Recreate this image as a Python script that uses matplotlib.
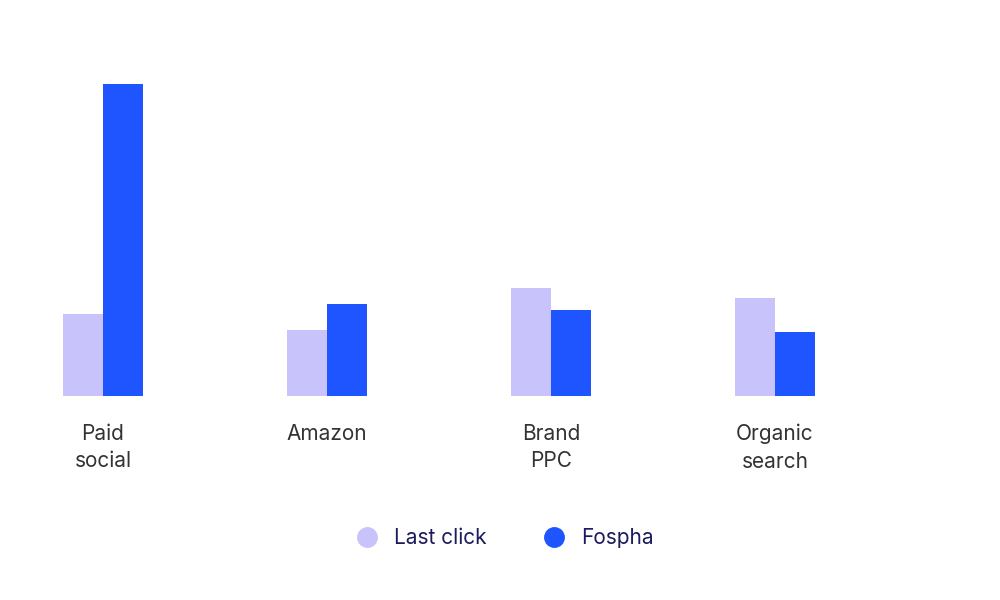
import matplotlib
matplotlib.use("Agg")
import matplotlib.pyplot as plt
from matplotlib.lines import Line2D

categories = ["Paid\nsocial", "Amazon", "Brand\nPPC", "Organic\nsearch"]
last_click = [82, 66, 108, 98]
fospha = [312, 92, 86, 64]
series_names = ["Last click", "Fospha"]
colors = ["#C9C3FB", "#1F55FF"]

plt.rcParams['font.family'] = ['Inter', 'DejaVu Sans']
fig = plt.figure(figsize=(10, 6), dpi=100)
ax = fig.add_axes([0, 0.34, 1, 0.52])
x = list(range(len(categories)))
w = 40 / 224
ax.bar([i - w/2 for i in x], last_click, width=w, color=colors[0])
ax.bar([i + w/2 for i in x], fospha, width=w, color=colors[1])
ax.set_xlim(-103/224, (1000-103)/224)
ax.set_ylim(0, 312)
ax.axis('off')
for i, c in zip(x, categories):
    ax.text(i, -28, c, ha='center', va='top', fontsize=15, color='#333333',
            linespacing=1.45, transform=ax.transData)
handles = [Line2D([], [], marker='o', ls='', markersize=14, color=c) for c in colors]
fig.legend(handles, series_names, loc='center', bbox_to_anchor=(0.5, 1 - 538/600),
           ncol=2, frameon=False, fontsize=15, labelcolor='#1B1B5E',
           handletextpad=0.3, columnspacing=2.2)
fig.savefig("out.png")
